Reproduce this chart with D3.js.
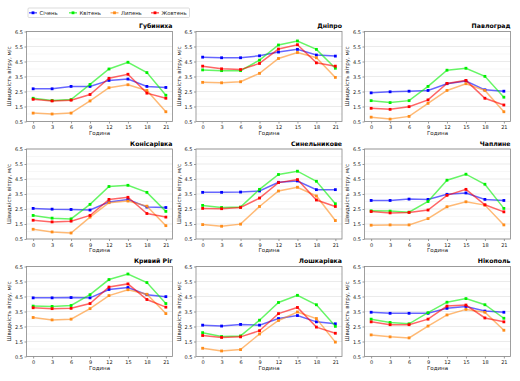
<!DOCTYPE html>
<html><head><meta charset="utf-8">
<script src="https://cdn.jsdelivr.net/npm/d3@7"></script>
<style>body{margin:0;background:#fff}svg{display:block;font-family:"DejaVu Sans",sans-serif}</style>
</head><body>
<svg id="c" width="520" height="381"></svg>
<script>
const hours = [0, 3, 6, 9, 12, 15, 18, 21];
const stations = ["Губиниха", "Дніпро", "Павлоград", "Конісарівка", "Синельникове", "Чаплине", "Кривий Ріг", "Лошкарівка", "Нікополь"];
const seriesNames = ["Січень", "Квітень", "Липень", "Жовтень"];
const yTicks = [0.5, 1.5, 2.5, 3.5, 4.5, 5.5, 6.5];

// Січень
const january = [
  [2.68, 2.68, 2.84, 2.84, 3.24, 3.33, 2.84, 2.77],
  [4.79, 4.75, 4.75, 4.88, 5.13, 5.31, 4.93, 4.86],
  [2.41, 2.48, 2.52, 2.57, 3.02, 3.20, 2.61, 2.52],
  [2.54, 2.49, 2.47, 2.43, 2.96, 3.14, 2.63, 2.60],
  [3.61, 3.61, 3.63, 3.70, 4.28, 4.37, 3.79, 3.79],
  [3.07, 3.07, 3.16, 3.14, 3.48, 3.57, 3.14, 3.07],
  [4.41, 4.41, 4.43, 4.41, 4.97, 5.10, 4.62, 4.49],
  [2.59, 2.53, 2.64, 2.59, 3.03, 3.23, 2.81, 2.68],
  [3.45, 3.38, 3.38, 3.38, 3.71, 3.84, 3.53, 3.45]
];
// Квітень
const april = [
  [2.05, 1.90, 1.96, 2.97, 4.00, 4.45, 3.76, 2.25],
  [3.94, 3.89, 3.89, 4.59, 5.60, 5.87, 5.31, 4.05],
  [1.89, 1.76, 1.89, 2.84, 3.92, 4.05, 3.51, 2.12],
  [2.07, 1.89, 1.84, 2.81, 4.00, 4.08, 3.61, 2.34],
  [2.74, 2.60, 2.63, 3.81, 4.80, 5.02, 4.35, 2.85],
  [2.38, 2.36, 2.29, 3.00, 4.42, 4.82, 4.15, 2.54],
  [3.86, 3.84, 3.90, 4.62, 5.63, 6.00, 5.43, 4.03],
  [2.09, 1.83, 1.87, 2.92, 4.10, 4.58, 3.95, 2.51],
  [2.99, 2.77, 2.68, 3.42, 4.12, 4.36, 3.95, 3.05]
];
// Липень
const july = [
  [1.06, 1.00, 1.06, 1.87, 2.75, 2.95, 2.57, 1.15],
  [3.11, 3.08, 3.15, 3.71, 4.70, 5.10, 4.75, 3.44],
  [0.79, 0.66, 0.84, 1.71, 2.57, 3.02, 2.57, 1.15],
  [1.15, 0.97, 0.90, 1.96, 2.92, 3.03, 2.69, 1.39],
  [1.46, 1.35, 1.49, 2.67, 3.70, 3.95, 3.37, 1.73],
  [1.42, 1.44, 1.44, 1.86, 2.65, 2.98, 2.76, 1.44],
  [3.10, 2.94, 2.99, 3.69, 4.56, 4.95, 4.65, 3.36],
  [1.05, 0.87, 0.96, 2.00, 2.90, 3.47, 3.03, 1.46],
  [1.94, 1.81, 1.74, 2.53, 3.27, 3.64, 3.45, 2.25]
];
// Жовтень
const october = [
  [1.98, 1.87, 1.92, 2.30, 3.38, 3.65, 2.39, 2.05],
  [4.19, 4.01, 3.96, 4.37, 5.33, 5.62, 4.41, 4.19],
  [1.38, 1.31, 1.49, 1.94, 3.04, 3.24, 2.05, 1.60],
  [1.75, 1.64, 1.69, 2.07, 3.14, 3.28, 2.20, 1.96],
  [2.54, 2.52, 2.60, 3.23, 4.26, 4.46, 3.10, 2.67],
  [2.33, 2.24, 2.27, 2.43, 3.41, 3.81, 2.78, 2.31],
  [3.75, 3.69, 3.71, 4.03, 5.13, 5.34, 4.30, 3.79],
  [1.90, 1.77, 1.81, 2.22, 3.36, 3.77, 2.46, 2.05],
  [2.81, 2.62, 2.62, 2.99, 3.86, 3.93, 3.07, 2.81]
];

const allSeries = [january, april, july, october];
const colors = ["#0000ff", "#00f000", "#ff8c1a", "#ff0000"];

const svg = d3.select("#c");
const colLeft = [26.5, 196, 364.5];
const rowTop = [31.5, 149, 266.5];
const W = 146, H = 90;

const x = d3.scaleLinear().domain([-1.05, 22.05]).range([0, W]);
const y = d3.scaleLinear().domain([0.5, 6.5]).range([H, 0]);
const minorTicks = [1, 2, 3, 4, 5, 6];

stations.forEach((name, i) => {
  const g = svg.append("g").attr("transform", `translate(${colLeft[i % 3]},${rowTop[Math.floor(i / 3)]})`);
  // grid
  g.selectAll(".mg").data(minorTicks).join("line")
    .attr("x1", 0).attr("x2", W).attr("y1", d => y(d)).attr("y2", d => y(d))
    .attr("stroke", "#f2f2f2").attr("stroke-width", 0.6);
  g.selectAll(".gg").data(yTicks).join("line")
    .attr("x1", 0).attr("x2", W).attr("y1", d => y(d)).attr("y2", d => y(d))
    .attr("stroke", "#e3e3e3").attr("stroke-width", 0.7);

  // axes
  const ya = g.append("g").call(d3.axisLeft(y).tickValues(yTicks).tickFormat(d3.format(".1f")).tickSize(2).tickPadding(1.5));
  const xa = g.append("g").attr("transform", `translate(0,${H})`).call(d3.axisBottom(x).tickValues(hours).tickSize(2).tickPadding(2));
  [ya, xa].forEach(a => {
    a.select(".domain").remove();
    a.selectAll("line").attr("stroke", "#555").attr("stroke-width", 0.6);
    a.selectAll("text").attr("font-size", 5).attr("fill", "#222").attr("font-family", "DejaVu Sans");
  });

  // lines
  allSeries.forEach((ser, s) => {
    const vals = ser[i];
    const line = d3.line().x((d, k) => x(hours[k])).y(d => y(d));
    g.append("path").datum(vals).attr("d", line)
      .attr("fill", "none").attr("stroke", colors[s]).attr("stroke-width", 1.5).attr("stroke-opacity", 0.6);
    g.selectAll(null).data(vals).join("rect")
      .attr("x", (d, k) => x(hours[k]) - 1.4).attr("y", d => y(d) - 1.4)
      .attr("width", 2.8).attr("height", 2.8).attr("fill", colors[s]);
  });

  // frame
  g.append("rect").attr("x", 0).attr("y", 0).attr("width", W).attr("height", H)
    .attr("fill", "none").attr("stroke", "#888").attr("stroke-width", 0.8);

  // title
  g.append("text").attr("x", W).attr("y", -3.5).attr("text-anchor", "end")
    .attr("font-size", 6.2).attr("font-weight", "bold").attr("fill", "#000").text(name);
  // x label
  g.append("text").attr("x", W / 2).attr("y", H + 13).attr("text-anchor", "middle")
    .attr("font-size", 5.5).attr("fill", "#222").text("Година");
  // y label
  g.append("text").attr("transform", `translate(-15.5,${H / 2}) rotate(-90)`).attr("text-anchor", "middle")
    .attr("font-size", 5.5).attr("fill", "#222").text("Швидкість вітру, м/с");
});

// legend
const lg = svg.append("g");
lg.append("rect").attr("x", 28).attr("y", 8).attr("width", 161.5).attr("height", 9.5)
  .attr("fill", "#fff").attr("stroke", "#ccc").attr("stroke-width", 0.7).attr("rx", 1);
const legX = [29, 69, 110.5, 151];
seriesNames.forEach((n, s) => {
  const lx = legX[s];
  lg.append("line").attr("x1", lx).attr("x2", lx + 8).attr("y1", 12.8).attr("y2", 12.8)
    .attr("stroke", colors[s]).attr("stroke-width", 1.5).attr("stroke-opacity", 0.6);
  lg.append("rect").attr("x", lx + 4 - 1.4).attr("y", 12.8 - 1.4).attr("width", 2.8).attr("height", 2.8).attr("fill", colors[s]);
  lg.append("text").attr("x", lx + 10.5).attr("y", 14.7).attr("font-size", 5.3).attr("fill", "#222").text(n);
});
</script>
</body></html>
